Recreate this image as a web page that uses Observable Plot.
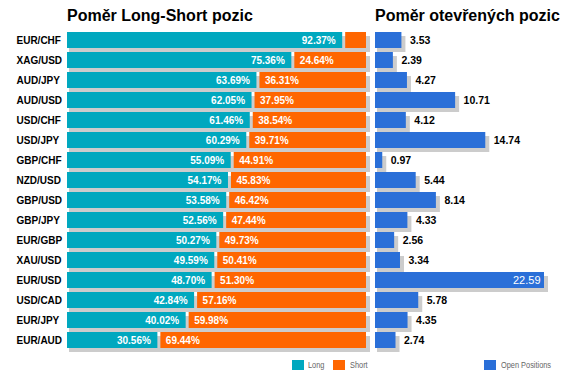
<!DOCTYPE html>
<html>
<head>
<meta charset="utf-8">
<script src="https://cdn.jsdelivr.net/npm/d3@7"></script>
<script src="https://cdn.jsdelivr.net/npm/@observablehq/plot@0.6"></script>
<style>
  html, body { margin: 0; padding: 0; background: #fff; }
  #wrap { position: relative; width: 571px; height: 380px; overflow: hidden; font-family: "Liberation Sans", Arial, sans-serif; }
  #wrap svg { position: absolute; top: 0; background: transparent; }
  .title { position: absolute; top: 8px; font-size: 16px; line-height: 16px; font-weight: bold; color: #000; white-space: nowrap; }
  .sw { position: absolute; width: 12px; height: 10px; top: 360px; }
  .lt { position: absolute; top: 360px; font-size: 9px; line-height: 10px; color: #666; transform: scaleX(0.82); transform-origin: left center; white-space: nowrap; }
</style>
</head>
<body>
<div id="wrap">
  <div class="title" style="left:67px">Poměr Long-Short pozic</div>
  <div class="title" style="left:375px">Poměr otevřených pozic</div>
  <div class="sw" style="left:292px;background:#00A8BF"></div>
  <div class="lt" style="left:308px">Long</div>
  <div class="sw" style="left:333px;background:#FF6600"></div>
  <div class="lt" style="left:350px">Short</div>
  <div class="sw" style="left:484px;background:#2A6FD8"></div>
  <div class="lt" style="left:501px">Open Positions</div>
</div>
<script>
const pairs = ["EUR/CHF","XAG/USD","AUD/JPY","AUD/USD","USD/CHF","USD/JPY","GBP/CHF","NZD/USD","GBP/USD","GBP/JPY","EUR/GBP","XAU/USD","EUR/USD","USD/CAD","EUR/JPY","EUR/AUD"];
const longPct = [92.37,75.36,63.69,62.05,61.46,60.29,55.09,54.17,53.58,52.56,50.27,49.59,48.70,42.84,40.02,30.56];
const shortPct = [7.63,24.64,36.31,37.95,38.54,39.71,44.91,45.83,46.42,47.44,49.73,50.41,51.30,57.16,59.98,69.44];
const openPos = [3.53,2.39,4.27,10.71,4.12,14.74,0.97,5.44,8.14,4.33,2.56,3.34,22.59,5.78,4.35,2.74];

const TEAL = "#00A8BF", ORANGE = "#FF6600", BLUE = "#2A6FD8", SHADOW = "#CCCCCC";
const rows = pairs.map((p, i) => ({pair: p, long: longPct[i], short: shortPct[i], open: openPos[i]}));
const yOpts = {domain: pairs, axis: null, paddingInner: 0.22, paddingOuter: 0.11};
const font = '"Liberation Sans", Arial, sans-serif';

const left = Plot.plot({
  width: 372, height: 380,
  marginLeft: 67, marginRight: 6, marginTop: 30, marginBottom: 30,
  style: {background: "transparent", fontFamily: font},
  x: {domain: [0, 100], axis: null},
  y: yOpts,
  marks: [
    Plot.barX(rows, {y: "pair", x1: 0, x2: d => d.long + d.short, fill: SHADOW, dx: 2, dy: 4, insetRight: -2}),
    Plot.barX(rows, {y: "pair", x1: 0, x2: "long", fill: TEAL, insetRight: 1}),
    Plot.barX(rows, {y: "pair", x1: "long", x2: d => d.long + d.short, fill: ORANGE, insetLeft: 2}),
    Plot.text(rows, {y: "pair", x: "long", text: d => d.long.toFixed(2) + "%", textAnchor: "end", dx: -8, fill: "white", fontWeight: "bold", fontSize: 10}),
    Plot.text(rows.filter(d => d.short >= 10), {y: "pair", x: "long", text: d => d.short.toFixed(2) + "%", textAnchor: "start", dx: 7, fill: "white", fontWeight: "bold", fontSize: 10}),
    Plot.text(rows, {y: "pair", text: "pair", frameAnchor: "left", textAnchor: "start", dx: -51, fill: "black", fontWeight: "bold", fontSize: 10})
  ]
});
left.style.left = "0px";

const right = Plot.plot({
  width: 199, height: 380,
  marginLeft: 3, marginRight: 27, marginTop: 30, marginBottom: 30,
  style: {background: "transparent", fontFamily: font},
  x: {domain: [0, d3.max(openPos)], axis: null},
  y: yOpts,
  marks: [
    Plot.barX(rows, {y: "pair", x1: 0, x2: "open", fill: SHADOW, dx: 2, dy: 4, insetRight: -2}),
    Plot.barX(rows, {y: "pair", x1: 0, x2: "open", fill: BLUE}),
    Plot.text(rows.filter(d => d.open < 20), {y: "pair", x: "open", text: d => d.open.toFixed(2), textAnchor: "start", dx: 8, fill: "black", fontWeight: "bold", fontSize: 10.5}),
    Plot.text(rows.filter(d => d.open >= 20), {y: "pair", x: "open", text: d => d.open.toFixed(2), textAnchor: "end", dx: -4, fill: "white", fontSize: 11})
  ]
});
right.style.left = "372px";

document.getElementById("wrap").append(left, right);
</script>
</body>
</html>
